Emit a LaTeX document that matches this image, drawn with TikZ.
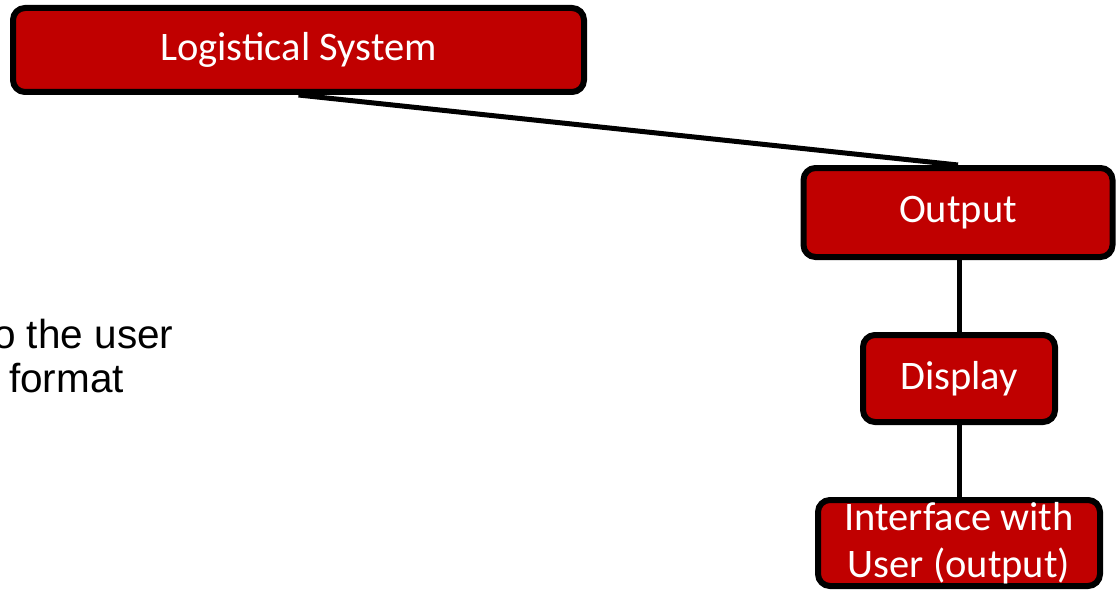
\documentclass[tikz,border=0pt]{standalone}
\usepackage{fontspec}
\setmainfont{Carlito}
\newfontfamily\arialfont{Liberation Sans}
\definecolor{boxred}{HTML}{C00000}
\tikzset{
  redbox/.style={draw=black, line width=6pt, fill=boxred, rounded corners=12pt,
    text=white, inner sep=0pt, align=center,
    font=\fontsize{40.5}{47}\selectfont},
  link/.style={draw=black, line width=5pt},
  note/.style={inner sep=0pt, anchor=base west, text=black,
    font=\arialfont\fontsize{40.5}{44}\selectfont}
}
\begin{document}
\begin{tikzpicture}[x=1pt, y=-1pt]
  \useasboundingbox (0,0) rectangle (1116,591);
  \fill[white] (0,0) rectangle (1116,591);

  % boxes
  \node[redbox, minimum width=571pt, minimum height=84pt] (ls) at (298.5,50) {Logistical System};
  \node[redbox, minimum width=309pt, minimum height=89pt] (out) at (958,212.5) {Output};
  \node[redbox, minimum width=192pt, minimum height=87pt] (disp) at (959,378.5) {Display};
  \node[redbox, minimum width=282pt, minimum height=86pt] (int) at (959,543) {Interface with\\User (output)};

  % connectors
  \draw[link] (ls.south) -- (out.north);
  \draw[link] (out.south -| disp) -- (disp.north);
  \draw[link] (disp.south) -- (int.north);

  % side note, partly cut off at the left edge
  \node[note] (n1) at (-7,348) {o the user};
  \node[note] (n2) at (9,392) {format};
\end{tikzpicture}
\end{document}
